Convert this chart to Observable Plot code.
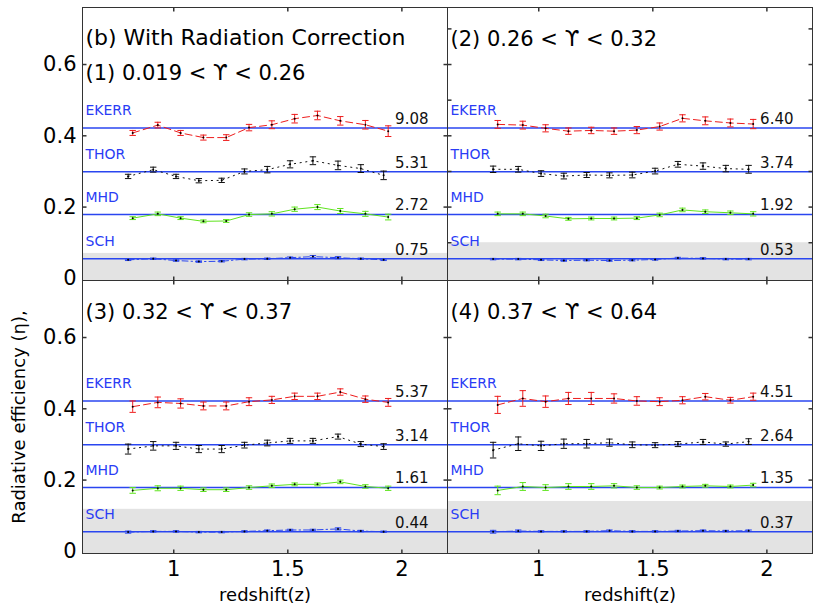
<!DOCTYPE html>
<html><head><meta charset="utf-8">
<script src="https://cdn.jsdelivr.net/npm/d3@7"></script>
<script src="https://cdn.jsdelivr.net/npm/@observablehq/plot@0.6"></script>
<style>
body{margin:0;background:#fff;}
#wrap{position:relative;width:830px;height:615px;font-family:"DejaVu Sans",sans-serif;}
#ylabel{position:absolute;left:18px;top:417px;transform:translate(-50%,-50%) rotate(-90deg);white-space:nowrap;font-size:18px;color:#000;}
#chart{position:absolute;left:0;top:0;}
</style></head><body>
<div id="wrap"><div id="chart"></div><div id="ylabel">Radiative efficiency (η),</div></div>
<script>
// ---- data ----
const panelTitles = ["(1) 0.019 < ϒ < 0.26", "(2) 0.26 < ϒ < 0.32", "(3) 0.32 < ϒ < 0.37", "(4) 0.37 < ϒ < 0.64"];
const panelCol = [0, 1, 0, 1];
const panelRow = [0, 0, 1, 1];
const series = ["EKERR", "THOR", "MHD", "SCH"];
const seriesLevel = [0.422, 0.299, 0.179, 0.055];
const seriesColor = ["#ee1c1c", "#111111", "#5fe41e", "#2a46f0"];
const seriesDash = ["7,4", "1.2,4.5", null, "6,3,1.5,3"];
const ratios = [[9.08, 5.31, 2.72, 0.75], [6.40, 3.74, 1.92, 0.53], [5.37, 3.14, 1.61, 0.44], [4.51, 2.64, 1.35, 0.37]];
const bandTop = [0.070, 0.100, 0.118, 0.140];
const zA = [0.82, 0.93, 1.03, 1.13, 1.23, 1.33, 1.43, 1.53, 1.63, 1.73, 1.84, 1.94];
const zB = [0.80, 0.91, 1.01, 1.11, 1.21, 1.31, 1.41, 1.51, 1.61, 1.72, 1.82, 1.92];
const xDomain = [0.6, 2.2];
const yDomain = [-0.006, 0.76];
const xTicks = [1, 1.5, 2];
const yTicks = [0, 0.2, 0.4, 0.6];
const panelYTicks = [[0.2, 0.4, 0.6], [0.1, 0.2, 0.3, 0.4, 0.5, 0.6, 0.7], [0.2, 0.4, 0.6], [0.2, 0.4, 0.6]];

const ekerr = [
  [0.408, 0.430, 0.408, 0.395, 0.395, 0.423, 0.431, 0.448, 0.457, 0.442, 0.431, 0.413],
  [0.432, 0.430, 0.421, 0.413, 0.415, 0.413, 0.416, 0.426, 0.449, 0.442, 0.436, 0.433],
  [0.406, 0.418, 0.415, 0.408, 0.408, 0.420, 0.425, 0.435, 0.435, 0.447, 0.427, 0.418],
  [0.411, 0.429, 0.420, 0.429, 0.429, 0.429, 0.422, 0.420, 0.424, 0.434, 0.424, 0.434]];
const ekerrErr = [
  [0.007, 0.008, 0.007, 0.007, 0.008, 0.009, 0.011, 0.012, 0.012, 0.012, 0.012, 0.015],
  [0.011, 0.011, 0.010, 0.009, 0.009, 0.009, 0.010, 0.010, 0.010, 0.011, 0.011, 0.013],
  [0.016, 0.015, 0.013, 0.011, 0.011, 0.011, 0.010, 0.009, 0.009, 0.009, 0.009, 0.011],
  [0.024, 0.022, 0.016, 0.017, 0.017, 0.013, 0.012, 0.011, 0.010, 0.009, 0.008, 0.010]];
const thor = [
  [0.286, 0.305, 0.286, 0.274, 0.275, 0.300, 0.305, 0.320, 0.330, 0.317, 0.308, 0.289],
  [0.306, 0.306, 0.294, 0.287, 0.290, 0.289, 0.290, 0.301, 0.320, 0.315, 0.308, 0.306],
  [0.287, 0.296, 0.296, 0.287, 0.287, 0.298, 0.304, 0.310, 0.310, 0.322, 0.301, 0.294],
  [0.284, 0.302, 0.296, 0.302, 0.302, 0.305, 0.299, 0.298, 0.301, 0.307, 0.301, 0.308]];
const thorErr = [
  [0.006, 0.007, 0.006, 0.006, 0.006, 0.007, 0.009, 0.010, 0.011, 0.012, 0.011, 0.012],
  [0.009, 0.008, 0.008, 0.008, 0.007, 0.007, 0.008, 0.008, 0.008, 0.009, 0.009, 0.011],
  [0.014, 0.012, 0.010, 0.010, 0.010, 0.008, 0.008, 0.007, 0.007, 0.007, 0.007, 0.008],
  [0.022, 0.019, 0.013, 0.013, 0.012, 0.010, 0.008, 0.007, 0.007, 0.007, 0.006, 0.008]];
const mhd = [
  [0.169, 0.181, 0.169, 0.160, 0.161, 0.179, 0.181, 0.194, 0.200, 0.189, 0.181, 0.172],
  [0.181, 0.181, 0.175, 0.167, 0.168, 0.168, 0.169, 0.178, 0.192, 0.187, 0.184, 0.181],
  [0.171, 0.177, 0.177, 0.173, 0.173, 0.179, 0.184, 0.188, 0.188, 0.195, 0.182, 0.177],
  [0.171, 0.182, 0.179, 0.182, 0.182, 0.184, 0.179, 0.179, 0.182, 0.184, 0.182, 0.186]];
const mhdErr = [
  [0.004, 0.005, 0.004, 0.004, 0.004, 0.005, 0.006, 0.006, 0.007, 0.007, 0.007, 0.008],
  [0.005, 0.005, 0.005, 0.004, 0.004, 0.004, 0.004, 0.005, 0.005, 0.005, 0.005, 0.006],
  [0.008, 0.007, 0.006, 0.005, 0.005, 0.005, 0.005, 0.004, 0.004, 0.005, 0.005, 0.006],
  [0.012, 0.011, 0.008, 0.008, 0.008, 0.006, 0.005, 0.004, 0.004, 0.004, 0.004, 0.005]];
const sch = [
  [0.052, 0.055, 0.050, 0.047, 0.048, 0.054, 0.055, 0.058, 0.061, 0.058, 0.055, 0.052],
  [0.054, 0.054, 0.052, 0.050, 0.051, 0.050, 0.051, 0.053, 0.057, 0.056, 0.054, 0.054],
  [0.054, 0.056, 0.056, 0.054, 0.054, 0.056, 0.058, 0.060, 0.060, 0.063, 0.057, 0.055],
  [0.055, 0.057, 0.056, 0.056, 0.056, 0.058, 0.056, 0.056, 0.057, 0.058, 0.057, 0.058]];
const schErr = [
  [0.002, 0.002, 0.002, 0.002, 0.002, 0.002, 0.002, 0.002, 0.003, 0.003, 0.002, 0.002],
  [0.002, 0.002, 0.002, 0.002, 0.002, 0.002, 0.002, 0.002, 0.002, 0.002, 0.002, 0.002],
  [0.003, 0.002, 0.002, 0.002, 0.002, 0.002, 0.002, 0.002, 0.002, 0.003, 0.002, 0.002],
  [0.004, 0.003, 0.002, 0.002, 0.002, 0.002, 0.002, 0.002, 0.002, 0.002, 0.002, 0.002]];

// ---- build tables ----
const values = [ekerr, thor, mhd, sch];
const errors = [ekerrErr, thorErr, mhdErr, schErr];
const rows = [];
const levelRows = [];
const yTickRows = [];
const xTickRows = [];
const panels = panelTitles.map((t, p) => ({p, col: panelCol[p], row: panelRow[p], title: t, top: bandTop[p]}));
panels.forEach(({p, col, row}) => {
  series.forEach((s, si) => {
    const zs = si % 2 === 0 ? zA : zB;
    values[si][p].forEach((v, i) => rows.push({p, col, row, series: s, z: zs[i], eta: v, err: errors[si][p][i]}));
    levelRows.push({p, col, row, series: s, level: seriesLevel[si], ratio: ratios[p][si].toFixed(2)});
  });
  panelYTicks[p].forEach(v => yTickRows.push({col, row, v}));
  xTicks.forEach(v => xTickRows.push({col, row, v}));
});

const capSymbol = {draw(ctx, size) { const r = Math.sqrt(size / Math.PI); ctx.moveTo(-r, 0); ctx.lineTo(r, 0); }};
const tickSym = (dx, dy) => ({draw(ctx, size) { const r = Math.sqrt(size / Math.PI); ctx.moveTo(0, 0); ctx.lineTo(dx * r, dy * r); }});
const FX = "col", FY = "row";
const font = "DejaVu Sans, sans-serif";
const frameColor = "#333";

const marks = [
  Plot.rect(panels, {x1: () => xDomain[0], x2: () => xDomain[1], y1: () => yDomain[0], y2: "top", fx: FX, fy: FY, fill: "#e3e3e3"}),
  Plot.ruleY(levelRows, {y: "level", fx: FX, fy: FY, stroke: "#2a46f0", strokeWidth: 1.5}),
];
series.forEach((s, si) => {
  marks.push(Plot.line(rows.filter(d => d.series === s), {x: "z", y: "eta", z: "p", fx: FX, fy: FY, stroke: seriesColor[si], strokeWidth: 1, strokeDasharray: seriesDash[si]}));
});
marks.push(
  Plot.ruleX(rows, {x: "z", y1: d => d.eta - d.err, y2: d => d.eta + d.err, fx: FX, fy: FY, stroke: "series", strokeWidth: 1}),
  Plot.dot(rows, {x: "z", y: d => d.eta + d.err, fx: FX, fy: FY, symbol: capSymbol, r: 3.2, stroke: "series", fill: "none", strokeWidth: 1}),
  Plot.dot(rows, {x: "z", y: d => d.eta - d.err, fx: FX, fy: FY, symbol: capSymbol, r: 3.2, stroke: "series", fill: "none", strokeWidth: 1}),
  Plot.dot(rows, {x: "z", y: "eta", fx: FX, fy: FY, r: 1, fill: "#000", stroke: "none"}),
  Plot.text(levelRows, {y: "level", fx: FX, fy: FY, text: "series", frameAnchor: "left", textAnchor: "start", dx: 3, dy: -17, fill: "#2a3cf5", fontSize: 14}),
  Plot.text(levelRows, {y: "level", fx: FX, fy: FY, text: "ratio", frameAnchor: "right", textAnchor: "end", dx: -19, dy: -9, fill: "#111", fontSize: 15}),
  Plot.text(panels.filter(d => d.p === 0), {fx: FX, fy: FY, text: () => "(b) With Radiation Correction", frameAnchor: "top-left", textAnchor: "start", dx: 3, dy: 22, fontSize: 22, fill: "#000"}),
  Plot.text(panels.filter(d => d.p === 0), {fx: FX, fy: FY, text: "title", frameAnchor: "top-left", textAnchor: "start", dx: 3, dy: 58, fontSize: 21, fill: "#000"}),
  Plot.text(panels.filter(d => d.p !== 0), {fx: FX, fy: FY, text: "title", frameAnchor: "top-left", textAnchor: "start", dx: 3, dy: 24, fontSize: 21, fill: "#000"}),
  Plot.text(panels.filter(d => d.row === 1), {fx: FX, fy: FY, text: () => "redshift(z)", frameAnchor: "bottom", textAnchor: "middle", dy: 47, fontSize: 18, fill: "#000"}),
  // inward ticks on every side of every panel
  Plot.dot(yTickRows, {x: () => xDomain[0], y: "v", fx: FX, fy: FY, symbol: tickSym(1, 0), r: 4, stroke: frameColor, fill: "none"}),
  Plot.dot(yTickRows, {x: () => xDomain[1], y: "v", fx: FX, fy: FY, symbol: tickSym(-1, 0), r: 4, stroke: frameColor, fill: "none"}),
  Plot.dot(xTickRows, {x: "v", y: () => yDomain[0], fx: FX, fy: FY, symbol: tickSym(0, -1), r: 4, stroke: frameColor, fill: "none"}),
  Plot.dot(xTickRows, {x: "v", y: () => yDomain[1], fx: FX, fy: FY, symbol: tickSym(0, 1), r: 4, stroke: frameColor, fill: "none"}),
  Plot.frame({stroke: frameColor, strokeWidth: 1}),
  Plot.axisY(yTicks, {anchor: "left", tickSize: 0, tickPadding: 6, tickFormat: d => String(d), fontSize: 21, fill: "#000", label: null}),
  Plot.axisX(xTicks, {anchor: "bottom", tickSize: 0, tickPadding: 8, tickFormat: d => String(d), fontSize: 21, fill: "#000", label: null})
);

const chart = Plot.plot({
  width: 830,
  height: 615,
  marginLeft: 82,
  marginRight: 18,
  marginTop: 6,
  marginBottom: 62,
  style: {fontFamily: font, background: "#fff", color: "#000"},
  x: {domain: xDomain, label: null},
  y: {domain: yDomain, label: null},
  fx: {domain: [0, 1], padding: 0, axis: null},
  fy: {domain: [0, 1], padding: 0, axis: null},
  color: {domain: series, range: seriesColor},
  marks
});
document.getElementById("chart").appendChild(chart);
</script>
</body></html>
